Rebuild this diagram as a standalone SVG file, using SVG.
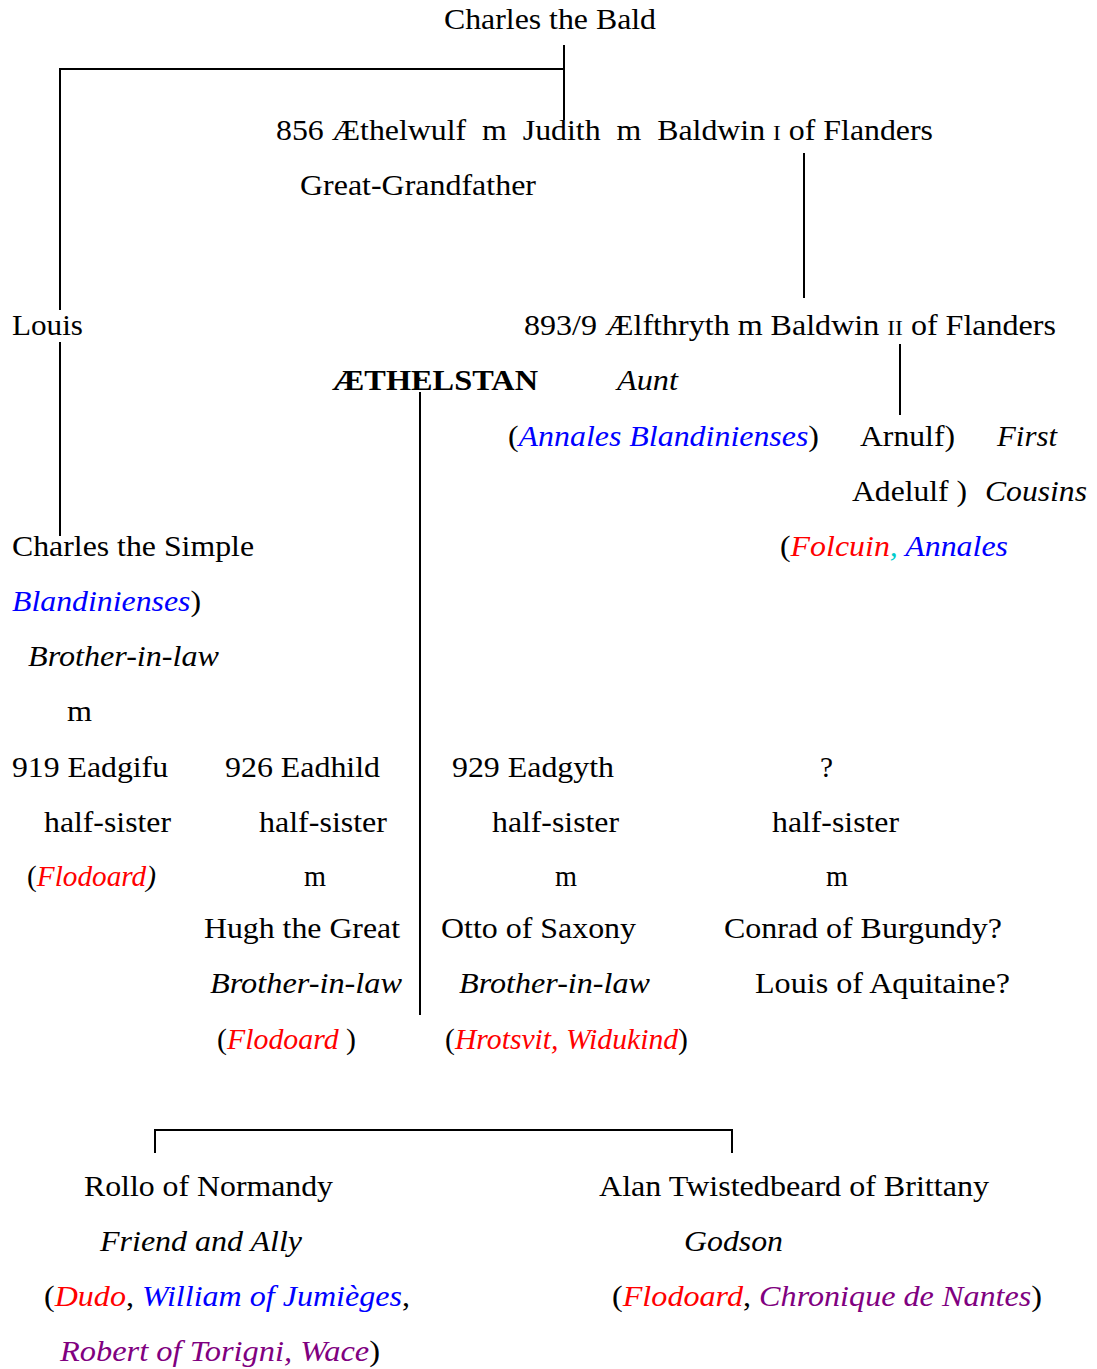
<svg xmlns="http://www.w3.org/2000/svg" width="1097" height="1369" viewBox="0 0 1097 1369" font-family="'Liberation Serif', Tinos, 'Times New Roman', Times, serif">
<style>
text{font-family:'Liberation Serif',Tinos,'Times New Roman',Times,serif;font-size:30px;fill:#000;white-space:pre}
.i{font-style:italic}
.b{font-weight:bold}
.blue{fill:#0000ff}
.red{fill:#ff0000}
.cyan{fill:#00cccc}
.purple{fill:#800080}
.sc{font-size:22px}
.ln{stroke:#000;stroke-width:2;fill:none}
</style>
<rect width="1097" height="1369" fill="#fff"/>
<g id="connectors">
<polyline class="ln" points="60,310 60,69 564,69"/>
<line class="ln" x1="564" y1="45" x2="564" y2="120"/>
<line class="ln" x1="60" y1="342" x2="60" y2="536"/>
<line class="ln" x1="804" y1="153" x2="804" y2="298"/>
<line class="ln" x1="900" y1="344" x2="900" y2="415"/>
<line class="ln" x1="420" y1="392" x2="420" y2="1015"/>
<rect x="418.5" y="377.5" width="2" height="2" fill="#000"/>
<polyline class="ln" points="155,1153 155,1130 732,1130 732,1153"/>
</g>
<g id="charles-bald"><text x="444" y="29" textLength="212" lengthAdjust="spacingAndGlyphs">Charles the Bald</text></g>
<g id="aethelwulf-judith"><text xml:space="preserve" x="276" y="140" textLength="657" lengthAdjust="spacingAndGlyphs">856 Æthelwulf  m  Judith  m  Baldwin <tspan class="sc">I</tspan> of Flanders</text>
<text x="300" y="195" textLength="236" lengthAdjust="spacingAndGlyphs">Great-Grandfather</text></g>
<g id="louis"><text x="12" y="335" textLength="71" lengthAdjust="spacingAndGlyphs">Louis</text></g>
<g id="aelfthryth"><text x="524" y="335" textLength="532" lengthAdjust="spacingAndGlyphs">893/9 Ælfthryth m Baldwin <tspan class="sc">II</tspan> of Flanders</text>
<text class="i" x="617" y="390" textLength="61" lengthAdjust="spacingAndGlyphs">Aunt</text>
<text x="508" y="446" textLength="311" lengthAdjust="spacingAndGlyphs">(<tspan class="i blue">Annales Blandinienses</tspan>)</text></g>
<g id="aethelstan"><text class="b" x="332" y="390" textLength="206" lengthAdjust="spacingAndGlyphs">ÆTHELSTAN</text></g>
<g id="arnulf-adelulf"><text x="860" y="446" textLength="95" lengthAdjust="spacingAndGlyphs">Arnulf)</text>
<text class="i" x="997" y="446" textLength="60" lengthAdjust="spacingAndGlyphs">First</text>
<text x="852" y="501" textLength="115" lengthAdjust="spacingAndGlyphs">Adelulf )</text>
<text class="i" x="985" y="501" textLength="102" lengthAdjust="spacingAndGlyphs">Cousins</text>
<text x="780" y="556" textLength="228" lengthAdjust="spacingAndGlyphs">(<tspan class="i red">Folcuin</tspan><tspan class="i cyan">,</tspan><tspan class="i blue"> Annales</tspan></text></g>
<g id="charles-simple"><text x="12" y="556" textLength="242" lengthAdjust="spacingAndGlyphs">Charles the Simple</text>
<text x="12" y="611" textLength="189" lengthAdjust="spacingAndGlyphs"><tspan class="i blue">Blandinienses</tspan>)</text>
<text class="i" x="28" y="666" textLength="191" lengthAdjust="spacingAndGlyphs">Brother-in-law</text>
<text x="67" y="721" textLength="25" lengthAdjust="spacingAndGlyphs">m</text></g>
<g id="eadgifu"><text x="12" y="777" textLength="156" lengthAdjust="spacingAndGlyphs">919 Eadgifu</text>
<text x="44" y="832" textLength="127" lengthAdjust="spacingAndGlyphs">half-sister</text>
<text x="27" y="886" textLength="129" lengthAdjust="spacingAndGlyphs">(<tspan class="i red">Flodoard</tspan><tspan class="i">)</tspan></text></g>
<g id="eadhild"><text x="225" y="777" textLength="155" lengthAdjust="spacingAndGlyphs">926 Eadhild</text>
<text x="259" y="832" textLength="128" lengthAdjust="spacingAndGlyphs">half-sister</text>
<text x="304" y="886" textLength="22" lengthAdjust="spacingAndGlyphs">m</text>
<text x="204" y="938" textLength="196" lengthAdjust="spacingAndGlyphs">Hugh the Great</text>
<text class="i" x="210" y="993" textLength="192" lengthAdjust="spacingAndGlyphs">Brother-in-law</text>
<text x="217" y="1049" textLength="139" lengthAdjust="spacingAndGlyphs">(<tspan class="i red">Flodoard</tspan> )</text></g>
<g id="eadgyth"><text x="452" y="777" textLength="162" lengthAdjust="spacingAndGlyphs">929 Eadgyth</text>
<text x="492" y="832" textLength="127" lengthAdjust="spacingAndGlyphs">half-sister</text>
<text x="555" y="886" textLength="22" lengthAdjust="spacingAndGlyphs">m</text>
<text x="441" y="938" textLength="195" lengthAdjust="spacingAndGlyphs">Otto of Saxony</text>
<text class="i" x="459" y="993" textLength="191" lengthAdjust="spacingAndGlyphs">Brother-in-law</text>
<text x="445" y="1049" textLength="243" lengthAdjust="spacingAndGlyphs">(<tspan class="i red">Hrotsvit, Widukind</tspan>)</text></g>
<g id="unknown-sister"><text x="820" y="777" textLength="13" lengthAdjust="spacingAndGlyphs">?</text>
<text x="772" y="832" textLength="127" lengthAdjust="spacingAndGlyphs">half-sister</text>
<text x="826" y="886" textLength="22" lengthAdjust="spacingAndGlyphs">m</text>
<text x="724" y="938" textLength="278" lengthAdjust="spacingAndGlyphs">Conrad of Burgundy?</text>
<text x="755" y="993" textLength="255" lengthAdjust="spacingAndGlyphs">Louis of Aquitaine?</text></g>
<g id="rollo"><text x="84" y="1196" textLength="249" lengthAdjust="spacingAndGlyphs">Rollo of Normandy</text>
<text class="i" x="100" y="1251" textLength="202" lengthAdjust="spacingAndGlyphs">Friend and Ally</text>
<text x="44" y="1306" textLength="366" lengthAdjust="spacingAndGlyphs">(<tspan class="i red">Dudo</tspan>, <tspan class="i blue">William of Jumièges</tspan>,</text>
<text x="60" y="1361" textLength="320" lengthAdjust="spacingAndGlyphs"><tspan class="i purple">Robert of Torigni, Wace</tspan>)</text></g>
<g id="alan"><text x="599" y="1196" textLength="390" lengthAdjust="spacingAndGlyphs">Alan Twistedbeard of Brittany</text>
<text class="i" x="684" y="1251" textLength="99" lengthAdjust="spacingAndGlyphs">Godson</text>
<text x="612" y="1306" textLength="430" lengthAdjust="spacingAndGlyphs">(<tspan class="i red">Flodoard</tspan>, <tspan class="i purple">Chronique de Nantes</tspan>)</text></g>
</svg>
